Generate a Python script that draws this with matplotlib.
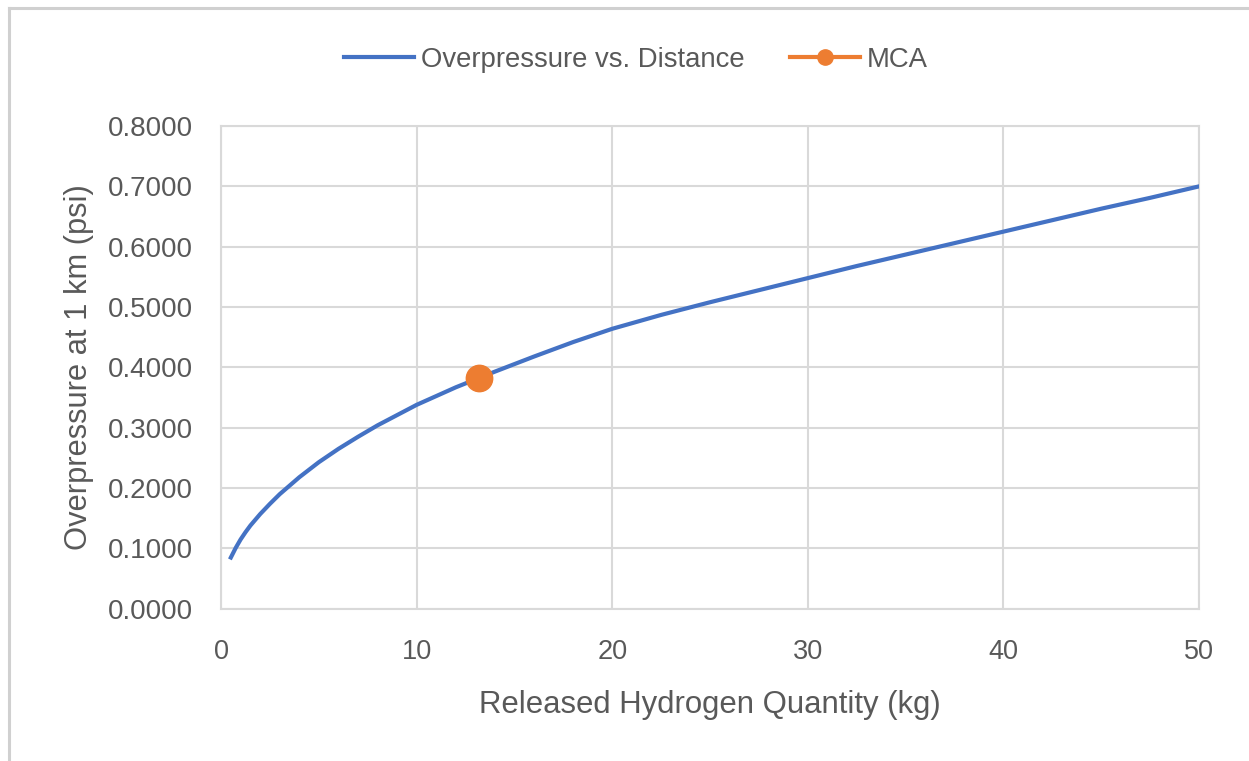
import matplotlib
matplotlib.use('Agg')
import matplotlib.pyplot as plt
from matplotlib.lines import Line2D

# released H2 mass (kg) and overpressure at 1 km (psi)
mass_kg = [0.5, 0.75, 1, 1.25, 1.5, 2, 2.5, 3, 3.5, 4, 5, 6, 7, 8, 9, 10,
           12, 14, 16, 18, 20, 22.5, 25, 27.5, 30, 32.5, 35, 37.5, 40,
           42.5, 45, 47.5, 50]
overpressure_psi = [0.085, 0.101, 0.115, 0.127, 0.138, 0.157, 0.174, 0.190,
                    0.204, 0.218, 0.243, 0.265, 0.285, 0.304, 0.321, 0.338,
                    0.367, 0.393, 0.418, 0.442, 0.464, 0.487, 0.508, 0.528,
                    0.548, 0.568, 0.587, 0.606, 0.625, 0.644, 0.663, 0.681,
                    0.700]

mca_mass = [13.2]
mca_psi = [0.383]

x_ticks = [0, 10, 20, 30, 40, 50]
y_ticks = [0.0, 0.1, 0.2, 0.3, 0.4, 0.5, 0.6, 0.7, 0.8]

BLUE = '#4472C4'
ORANGE = '#ED7D31'
GRID = '#d9d9d9'
TEXT = '#595959'
FONT = 'Liberation Sans'

fig = plt.figure(figsize=(12.49, 7.61), dpi=100)
ax = fig.add_axes([0.177, 0.2, 0.783, 0.6344])

ax.plot(mass_kg, overpressure_psi, '-', color=BLUE, linewidth=3, zorder=3,
        solid_joinstyle='round')
ax.plot(mca_mass, mca_psi, 'o', color=ORANGE, markersize=19, zorder=4)

ax.set_xlim(0, 50)
ax.set_ylim(0, 0.8)
ax.set_xticks(x_ticks)
ax.set_xticklabels([str(t) for t in x_ticks], family=FONT, fontsize=19.5, color=TEXT)
ax.set_yticks(y_ticks)
ax.set_yticklabels(['%.4f' % t for t in y_ticks], family=FONT, fontsize=20, color=TEXT)
ax.tick_params(axis='y', length=0, pad=20)
ax.tick_params(axis='x', length=0, pad=22)

ax.grid(True, color=GRID, linewidth=1.5)
ax.set_axisbelow(True)
for s in ax.spines.values():
    s.set_color(GRID)
    s.set_linewidth(1.5)

ax.set_xlabel('Released Hydrogen Quantity (kg)', family=FONT, fontsize=22.4,
              color=TEXT, labelpad=18)
ax.set_ylabel('Overpressure at 1 km (psi)', family=FONT, fontsize=22.2,
              color=TEXT, labelpad=10)

handles = [Line2D([], [], color=BLUE, linewidth=3),
           Line2D([], [], color=ORANGE, linewidth=3, marker='o', markersize=11)]
fig.legend(handles, ['Overpressure vs. Distance', 'MCA'], loc='center',
           bbox_to_anchor=(636 / 1249, 1 - 60 / 761), ncol=2, frameon=False,
           prop={'family': FONT, 'size': 19.8}, labelcolor=TEXT,
           handlelength=2.55, handletextpad=0.25, columnspacing=1.65)

# outer chart frame (left and top edges)
fig.add_artist(Line2D([9 / 1249, 9 / 1249], [0, 1 - 8 / 761], color='#d0d0d0',
                      linewidth=2.2, transform=fig.transFigure))
fig.add_artist(Line2D([9 / 1249, 1], [1 - 8 / 761, 1 - 8 / 761], color='#d0d0d0',
                      linewidth=2.2, transform=fig.transFigure))

fig.savefig('out.png', dpi=100)
